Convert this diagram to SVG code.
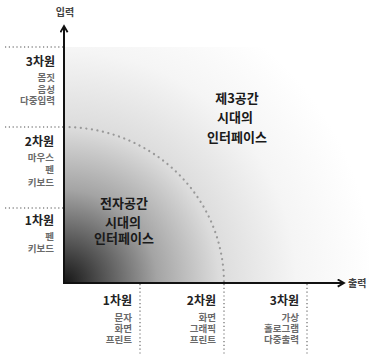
<svg xmlns="http://www.w3.org/2000/svg" width="369" height="355" viewBox="0 0 369 355">
<defs>
<radialGradient id="g" gradientUnits="userSpaceOnUse" cx="64" cy="283" r="310">
<stop offset="0" stop-color="#161616"/>
<stop offset="0.12" stop-color="#505050"/>
<stop offset="0.3" stop-color="#a4a4a4"/>
<stop offset="0.5" stop-color="#dcdcdc"/>
<stop offset="0.75" stop-color="#f5f5f5"/>
<stop offset="1" stop-color="#fff"/>
</radialGradient>
<marker id="arr" viewBox="0 0 10 10" refX="8" refY="5" markerWidth="4.5" markerHeight="4.5" orient="auto" markerUnits="strokeWidth">
<path d="M1,1 L8,5 L1,9" fill="none" stroke="#111" stroke-width="2"/>
</marker>
<style>
text{font-family:"Noto Sans CJK KR","Noto Sans",sans-serif;}
.h{font-size:12px;font-weight:bold;fill:#222;}
.s{font-size:9.5px;font-weight:bold;fill:#6a6a6a;}
.c{font-size:13px;font-weight:bold;fill:#1a1a1a;text-anchor:middle;}
.r{text-anchor:end;}
.dot{stroke:#888;stroke-width:1.5;stroke-dasharray:1.2 2.6;fill:none;}
.arc{stroke:#999;stroke-width:2.2;stroke-dasharray:0.1 5.5;stroke-linecap:round;fill:none;}
.ax{stroke:#111;stroke-width:2;fill:none;}
</style>
</defs>
<rect width="369" height="355" fill="#fff"/>
<rect id="field" x="64" y="47" width="305" height="236" fill="url(#g)"/>
<g id="connectors">
<line class="dot" x1="5" y1="47" x2="64" y2="47"/>
<line class="dot" x1="5" y1="127" x2="64" y2="127"/>
<line class="dot" x1="5" y1="208" x2="64" y2="208"/>
<line class="dot" x1="140" y1="284" x2="140" y2="355"/>
<line class="dot" x1="224" y1="284" x2="224" y2="355"/>
<line class="dot" x1="307" y1="284" x2="307" y2="355"/>
<path class="arc" d="M64,127 A160,156 0 0 1 224,283"/>
<line class="ax" x1="64" y1="284" x2="64" y2="26" marker-end="url(#arr)"/>
<line class="ax" x1="63" y1="283" x2="344" y2="283" marker-end="url(#arr)"/>
</g>
<g id="axis-labels">
<text class="s" x="65" y="16" text-anchor="middle" style="fill:#444;font-size:10px">입력</text>
<text class="s" x="348" y="287" style="fill:#444;font-size:10px">출력</text>
</g>
<g id="in3">
<text class="h r" x="55" y="66">3차원</text>
<text class="s r"><tspan x="55" y="81">몸짓</tspan><tspan x="55" y="92.5">음성</tspan><tspan x="55" y="104">다중입력</tspan></text>
</g>
<g id="in2">
<text class="h r" x="54" y="146">2차원</text>
<text class="s r"><tspan x="54" y="161">마우스</tspan><tspan x="54" y="173">펜</tspan><tspan x="54" y="186">키보드</tspan></text>
</g>
<g id="in1">
<text class="h r" x="54" y="225">1차원</text>
<text class="s r"><tspan x="54" y="240">펜</tspan><tspan x="54" y="252">키보드</tspan></text>
</g>
<g id="out1">
<text class="h r" x="132" y="305">1차원</text>
<text class="s r"><tspan x="132" y="321">문자</tspan><tspan x="132" y="332">화면</tspan><tspan x="132" y="343">프린트</tspan></text>
</g>
<g id="out2">
<text class="h r" x="216" y="305">2차원</text>
<text class="s r"><tspan x="216" y="321">화면</tspan><tspan x="216" y="332">그래픽</tspan><tspan x="216" y="343">프린트</tspan></text>
</g>
<g id="out3">
<text class="h r" x="299" y="305">3차원</text>
<text class="s r"><tspan x="299" y="321">가상</tspan><tspan x="299" y="332">홀로그램</tspan><tspan x="299" y="343">다중출력</tspan></text>
</g>
<g id="third-space">
<text class="c" x="237" y="103">제3공간</text>
<text class="c" x="235" y="122">시대의</text>
<text class="c" x="237" y="142">인터페이스</text>
</g>
<g id="electronic-space">
<text class="c" x="124" y="208">전자공간</text>
<text class="c" x="123" y="227">시대의</text>
<text class="c" x="124" y="243">인터페이스</text>
</g>
</svg>
